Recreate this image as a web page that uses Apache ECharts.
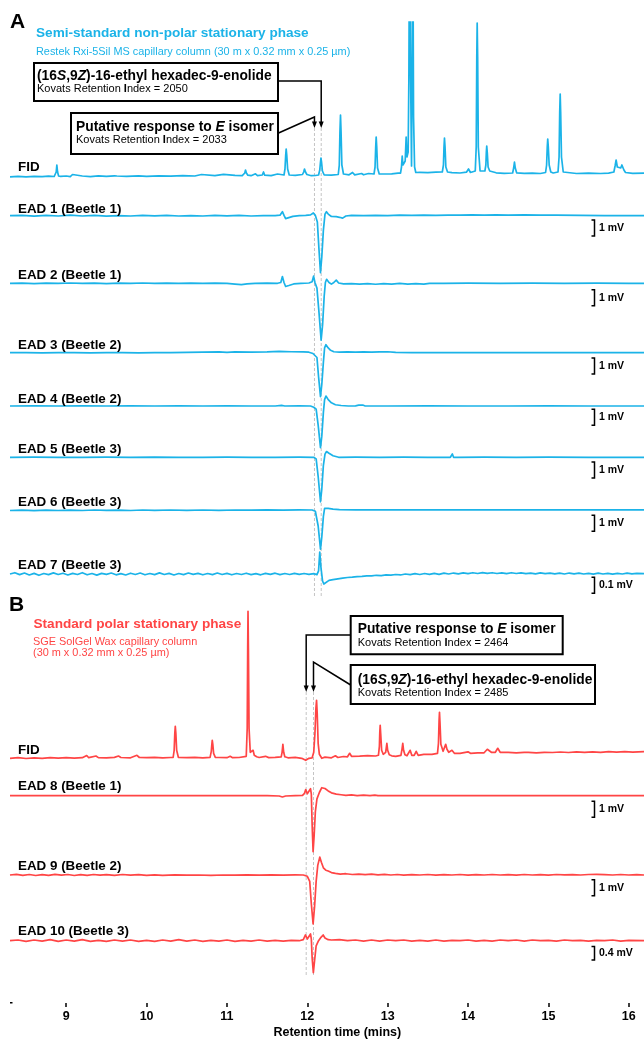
<!DOCTYPE html>
<html><head><meta charset="utf-8">
<script src="https://cdn.jsdelivr.net/npm/echarts@6/dist/echarts.min.js"></script>
<style>html,body{margin:0;padding:0;background:#fff}#c{width:644px;height:1041px}</style>
</head><body><div id="c"></div>
<script>
// ---------------- DATA (retention time in minutes, response) ----------------
const xTicks = [9, 10, 11, 12, 13, 14, 15, 16];
const responseTimesA = [12.089, 12.173];   // E isomer, Z compound (non-polar column)
const responseTimesB = [11.986, 12.077];   // E isomer, Z compound (polar column)
const scaleBars = [1, 1, 1, 1, 1, 1, 0.1, 1, 1, 0.4];          // mV
const scaleBarLabels = ['1 mV','1 mV','1 mV','1 mV','1 mV','1 mV','0.1 mV','1 mV','1 mV','0.4 mV'];

// FID, non-polar column (relative response)
const fidA = [[8.30,0.2],[8.40,0.6],[8.50,0.1],[8.60,0.7],[8.70,0.3],[8.78,0.8],[8.85,0.5],[8.865,0.8],[8.875,5],[8.883,12],[8.892,5],[8.905,1],[8.93,0.6],[9.00,1],[9.05,0.4],[9.078,2.5],[9.10,0.5],[9.20,1],[9.30,0.4],[9.40,1.1],[9.50,0.6],[9.60,1.2],[9.613,3],[9.63,1],[9.75,0.7],[9.90,1.1],[10.00,0.6],[10.15,1.1],[10.30,0.8],[10.45,1.3],[10.60,1],[10.683,2.5],[10.70,1.1],[10.85,1.4],[10.957,2.6],[10.98,1.2],[11.10,1.6],[11.19,1.4],[11.21,1.6],[11.222,4],[11.231,7],[11.242,4],[11.26,1.8],[11.30,1.3],[11.355,3.2],[11.38,1.4],[11.44,2],[11.455,5],[11.47,1.8],[11.55,1.4],[11.629,3],[11.65,1.5],[11.71,2],[11.722,8],[11.731,22],[11.737,28],[11.744,22],[11.755,8],[11.775,2],[11.85,1.6],[11.94,2.5],[11.955,5],[11.965,8],[11.977,5],[11.995,2.5],[12.05,1.3],[12.10,1.5],[12.14,2],[12.155,7],[12.164,15],[12.170,19],[12.177,15],[12.188,6],[12.21,2],[12.30,1.8],[12.385,2.5],[12.398,12],[12.406,45],[12.413,62],[12.420,45],[12.430,12],[12.45,3],[12.52,2.2],[12.563,4.5],[12.59,2.2],[12.675,3.5],[12.70,2.2],[12.762,3.5],[12.78,2.3],[12.83,3],[12.843,10],[12.851,30],[12.857,40],[12.864,30],[12.874,9],[12.895,3],[13.05,3.2],[13.13,3.8],[13.16,3.8],[13.172,10],[13.181,21],[13.19,12],[13.205,10],[13.218,16],[13.230,40],[13.240,20],[13.255,25],[13.264,100],[13.272,260],[13.283,120],[13.297,11],[13.303,100],[13.313,260],[13.322,60],[13.335,10],[13.35,4.5],[13.40,4.6],[13.50,4.3],[13.60,4.8],[13.68,5],[13.694,12],[13.701,30],[13.707,39],[13.714,30],[13.724,10],[13.745,5],[13.80,4.4],[13.90,4],[13.98,4.8],[14.006,8],[14.03,4.5],[14.09,6],[14.102,30],[14.109,120],[14.114,154],[14.120,120],[14.128,30],[14.15,6],[14.21,6],[14.222,12],[14.228,25],[14.233,31],[14.240,24],[14.25,10],[14.27,6],[14.35,4.2],[14.45,3.6],[14.555,4],[14.568,9],[14.578,15],[14.588,9],[14.605,4.2],[14.70,3.6],[14.80,3.9],[14.90,3.5],[14.965,4.5],[14.978,12],[14.986,30],[14.992,38],[14.999,30],[15.01,12],[15.03,5],[15.06,4],[15.12,5],[15.133,20],[15.141,65],[15.147,83],[15.153,65],[15.163,20],[15.185,5],[15.20,4],[15.35,3.5],[15.50,3.9],[15.65,3.5],[15.75,3.8],[15.815,5],[15.83,11],[15.843,17],[15.858,10],[15.875,8],[15.90,9],[15.915,12],[15.925,13],[15.94,7],[15.96,4.5],[16.05,3.6],[16.19,3.8]];

// EAD traces, non-polar column (mV)
const ead1 = [[8.30,0],[8.45,0.02],[8.60,-0.03],[8.75,0.02],[8.90,-0.02],[9.05,0.03],[9.20,-0.02],[9.35,0.02],[9.50,-0.03],[9.65,0.01],[9.80,-0.02],[9.95,0.02],[10.10,-0.01],[10.25,0.02],[10.40,-0.02],[10.55,0.01],[10.70,-0.02],[10.85,0.02],[11.00,-0.01],[11.15,0.02],[11.30,-0.02],[11.45,0.01],[11.60,0],[11.66,0.03],[11.69,0.25],[11.71,0.02],[11.73,-0.18],[11.77,-0.12],[11.82,-0.04],[11.90,0],[11.98,0.02],[12.04,0.05],[12.075,0.17],[12.10,0.02],[12.125,-0.4],[12.145,-2.1],[12.164,-3.56],[12.18,-2.6],[12.20,-0.9],[12.22,0.1],[12.238,0.25],[12.26,0.1],[12.30,-0.05],[12.36,-0.06],[12.40,-0.1],[12.44,-0.15],[12.48,-0.02],[12.55,0.02],[12.70,0],[12.85,0.02],[13.00,0.01],[13.15,0.03],[13.30,0.02],[13.45,0.04],[13.60,0.02],[13.75,0.04],[13.90,0.03],[14.05,0.05],[14.20,0.03],[14.35,0.05],[14.50,0.03],[14.70,0.05],[14.90,0.03],[15.10,0.04],[15.40,0.02],[15.70,0.01],[16.00,0],[16.19,0]];
const ead2 = [[8.30,0],[8.45,0.01],[8.60,-0.02],[8.75,0.01],[8.90,-0.01],[9.05,0.02],[9.20,-0.01],[9.35,0.01],[9.50,-0.02],[9.65,0.01],[9.80,-0.01],[9.95,0.02],[10.10,-0.01],[10.25,0.01],[10.40,-0.01],[10.55,0.01],[10.70,-0.01],[10.85,0.01],[11.00,-0.01],[11.10,-0.05],[11.18,-0.08],[11.25,-0.04],[11.35,0],[11.50,0.01],[11.63,0],[11.67,0.05],[11.69,0.42],[11.71,0.05],[11.73,-0.2],[11.77,-0.14],[11.83,-0.04],[11.92,0],[12.02,0.02],[12.06,0.1],[12.078,0.45],[12.095,0.05],[12.12,-0.3],[12.145,-1.8],[12.172,-3.56],[12.19,-2.6],[12.21,-0.8],[12.225,0.05],[12.24,0.25],[12.27,0.05],[12.30,-0.05],[12.33,0.05],[12.36,0.2],[12.39,0.02],[12.45,-0.04],[12.55,-0.02],[12.65,-0.05],[12.75,-0.02],[12.85,-0.06],[12.95,-0.02],[13.05,-0.05],[13.15,-0.01],[13.25,-0.05],[13.35,-0.02],[13.45,-0.05],[13.52,0],[13.70,0],[14.00,0.01],[14.40,0],[14.80,0.01],[15.20,0],[15.60,0.01],[16.00,0],[16.19,0]];
const ead3 = [[8.30,0],[8.50,0.01],[8.70,-0.01],[8.90,0],[9.10,0.01],[9.30,-0.01],[9.50,0],[9.70,0.01],[9.90,-0.01],[10.10,0.01],[10.30,0],[10.50,0.02],[10.70,0.03],[10.90,0.05],[11.00,0.02],[11.10,0.05],[11.30,0.04],[11.50,0.05],[11.65,0.08],[11.80,0.06],[11.95,0.05],[12.02,0.03],[12.07,-0.05],[12.09,-0.12],[12.12,-0.3],[12.14,-1.5],[12.164,-2.75],[12.18,-2.0],[12.20,-0.6],[12.215,0.3],[12.232,0.5],[12.26,0.3],[12.29,0.15],[12.33,0.06],[12.40,0.03],[12.50,0.05],[12.60,0.03],[12.70,0.05],[12.80,0.03],[12.90,0.05],[13.00,0.06],[13.10,0.02],[13.30,0],[13.60,0.01],[14.00,0],[14.50,0.01],[15.00,0],[15.50,0.01],[16.00,0],[16.19,0]];
const ead4 = [[8.30,0],[8.60,0.01],[8.90,0],[9.20,0.01],[9.50,0],[9.80,0.01],[10.10,0],[10.40,0.01],[10.70,0],[11.00,0.01],[11.30,0],[11.60,0],[11.68,0.04],[11.72,0],[11.90,0.01],[12.04,0],[12.08,-0.08],[12.11,-0.2],[12.135,-1.2],[12.164,-2.6],[12.18,-1.9],[12.20,-0.4],[12.215,0.4],[12.232,0.62],[12.26,0.4],[12.30,0.2],[12.35,0.08],[12.42,0.03],[12.51,0],[12.60,0.01],[12.64,0.05],[12.66,0.01],[12.69,0.06],[12.72,0],[13.00,0],[13.50,0.01],[14.00,0],[14.50,0],[15.00,0.01],[15.50,0],[16.19,0]];
const ead5 = [[8.30,0],[8.60,0.01],[8.90,-0.01],[9.20,0],[9.50,0.01],[9.80,-0.01],[10.10,0.01],[10.40,-0.01],[10.70,0],[11.00,0.01],[11.30,-0.01],[11.60,0],[11.90,0.01],[12.08,0],[12.11,-0.1],[12.135,-1.2],[12.164,-2.78],[12.18,-2.0],[12.20,-0.5],[12.22,0.2],[12.239,0.36],[12.27,0.25],[12.32,0.1],[12.39,0],[12.60,0.01],[12.90,0],[13.20,0.01],[13.50,0],[13.78,0],[13.805,0.21],[13.82,0],[13.84,-0.09],[13.87,0],[14.20,0.01],[14.60,0],[15.00,0.01],[15.50,0],[16.19,0]];
const ead6 = [[8.30,-0.03],[8.45,-0.01],[8.60,-0.04],[8.75,-0.01],[8.90,-0.03],[9.05,-0.01],[9.20,-0.03],[9.35,0],[9.50,-0.02],[9.65,-0.01],[9.80,-0.03],[9.95,0],[10.10,-0.02],[10.30,0],[10.50,-0.02],[10.70,0],[10.90,-0.02],[11.10,0],[11.30,-0.01],[11.50,0.01],[11.70,-0.01],[11.90,0.01],[12.06,0],[12.10,-0.08],[12.135,-1.0],[12.164,-2.44],[12.18,-1.7],[12.20,-0.4],[12.215,0.1],[12.232,0.21],[12.26,0.1],[12.32,0.05],[12.40,0.02],[12.60,0.01],[13.00,0.01],[13.50,0.01],[14.00,0.01],[14.50,0.01],[15.00,0.01],[15.50,0.01],[16.19,0.01]];
const ead7 = [[8.30,0],[8.36,0.008],[8.42,-0.004],[8.48,0.006],[8.54,-0.006],[8.60,0.004],[8.66,-0.008],[8.72,0.003],[8.78,-0.004],[8.84,0.007],[8.90,-0.003],[8.96,0.005],[9.02,-0.006],[9.08,0.004],[9.14,-0.003],[9.20,0.008],[9.26,-0.005],[9.32,0.003],[9.38,-0.007],[9.44,0.004],[9.50,-0.002],[9.56,0.006],[9.62,-0.005],[9.68,0.002],[9.74,-0.006],[9.80,0.005],[9.86,-0.003],[9.92,0.006],[9.98,-0.005],[10.04,0.003],[10.10,-0.004],[10.16,0.007],[10.22,-0.003],[10.28,0.004],[10.34,-0.006],[10.40,0.003],[10.46,-0.004],[10.52,0.006],[10.58,-0.002],[10.64,0.004],[10.70,-0.005],[10.76,0.003],[10.82,-0.004],[10.88,0.006],[10.94,-0.003],[11.00,0.004],[11.06,-0.005],[11.12,0.003],[11.18,-0.003],[11.24,0.005],[11.30,-0.004],[11.36,0.002],[11.42,-0.005],[11.48,0.004],[11.54,-0.002],[11.60,0.005],[11.66,-0.004],[11.72,0.003],[11.78,-0.003],[11.84,0.004],[11.90,-0.002],[11.96,0.003],[12.02,-0.002],[12.08,0.002],[12.12,-0.004],[12.14,0.02],[12.155,0.1375],[12.17,0.04],[12.19,-0.045],[12.206,-0.0625],[12.23,-0.05],[12.27,-0.04],[12.32,-0.035],[12.38,-0.03],[12.44,-0.026],[12.50,-0.022],[12.56,-0.02],[12.62,-0.016],[12.68,-0.015],[12.74,-0.012],[12.80,-0.012],[12.86,-0.008],[12.92,-0.01],[12.98,-0.006],[13.04,-0.007],[13.10,-0.003],[13.16,-0.006],[13.22,0],[13.28,-0.004],[13.34,0.002],[13.40,-0.003],[13.46,0.003],[13.52,-0.002],[13.58,0.004],[13.64,-0.002],[13.70,0.005],[13.76,0],[13.82,0.006],[13.88,0.001],[13.94,0.007],[14.00,0.002],[14.06,0.008],[14.12,0.003],[14.18,0.009],[14.24,0.004],[14.30,0.008],[14.36,0.003],[14.42,0.007],[14.48,0.002],[14.54,0.008],[14.60,0.003],[14.66,0.007],[14.72,0.002],[14.78,0.006],[14.84,0.001],[14.90,0.007],[14.96,0.002],[15.02,0.006],[15.08,0.001],[15.14,0.005],[15.20,0],[15.26,0.006],[15.32,0.001],[15.38,0.005],[15.44,0],[15.50,0.004],[15.56,-0.001],[15.62,0.005],[15.68,0],[15.74,0.004],[15.80,-0.001],[15.86,0.004],[15.92,0],[15.98,0.005],[16.04,0.001],[16.10,0.004],[16.19,0.002]];

// FID, polar column (relative response)
const fidB = [[8.30,0],[8.40,0.6],[8.50,-0.2],[8.60,0.5],[8.70,0],[8.80,0.6],[8.90,0.1],[9.00,0.7],[9.10,0.2],[9.20,0.6],[9.255,2.8],[9.28,0.6],[9.37,2.3],[9.40,0.7],[9.50,0.4],[9.60,0.9],[9.65,2.3],[9.68,0.8],[9.80,0.5],[9.88,3],[9.91,0.8],[10.00,0.6],[10.10,0.9],[10.20,0.5],[10.30,0.8],[10.33,0.8],[10.343,8],[10.351,25],[10.357,32],[10.364,25],[10.374,8],[10.395,1],[10.50,0.6],[10.60,0.9],[10.70,0.5],[10.79,1],[10.805,7],[10.812,14],[10.817,18],[10.824,14],[10.834,5],[10.855,1],[10.90,0.8],[11.00,0.6],[11.04,2],[11.07,0.6],[11.15,0.8],[11.24,2],[11.252,30],[11.258,110],[11.262,147],[11.267,110],[11.275,30],[11.29,6],[11.31,4],[11.325,8],[11.34,3],[11.37,1.5],[11.40,0.8],[11.48,2],[11.52,0.7],[11.60,0.9],[11.675,1.5],[11.686,6],[11.696,14],[11.706,6],[11.72,1.5],[11.76,0.5],[11.85,1],[11.93,0],[11.98,-2],[12.02,0],[12.06,0.5],[12.08,6],[12.095,25],[12.107,50],[12.115,58],[12.123,45],[12.135,15],[12.15,4],[12.18,0],[12.22,1.2],[12.30,0.5],[12.35,2.5],[12.38,0.8],[12.45,1.8],[12.50,1.5],[12.527,5],[12.55,2],[12.65,2.2],[12.75,2.6],[12.85,2.3],[12.885,3],[12.897,12],[12.902,26],[12.907,33],[12.913,25],[12.925,8],[12.945,4],[12.975,6],[12.99,15],[13.00,8],[13.02,3.5],[13.05,2.5],[13.10,2],[13.165,3],[13.178,9],[13.188,15],[13.198,8],[13.215,3.5],[13.24,2.5],[13.28,8],[13.30,3],[13.33,3],[13.355,7],[13.38,3],[13.45,4],[13.55,4],[13.62,5],[13.632,15],[13.640,38],[13.645,46],[13.651,36],[13.662,14],[13.69,7],[13.712,8],[13.722,14],[13.728,15],[13.738,9],[13.76,6],[13.80,8],[13.83,5],[13.90,5],[14.00,6.5],[14.03,5],[14.12,5.5],[14.20,5.5],[14.24,9],[14.258,11],[14.29,6],[14.34,6],[14.37,10],[14.40,6],[14.50,6],[14.60,5.5],[14.70,6],[14.72,8],[14.75,6],[14.85,5.5],[14.95,6],[15.05,5.8],[15.15,6.3],[15.25,5.8],[15.35,6.4],[15.45,6],[15.55,6.5],[15.65,6],[15.75,6.6],[15.85,6.1],[15.95,6.6],[16.05,6.2],[16.19,6.6]];

// EAD traces, polar column (mV)
const ead8 = [[8.30,0],[8.70,0.01],[9.10,0],[9.50,0.01],[9.90,0],[10.30,0.01],[10.70,0],[11.10,0.01],[11.50,0],[11.65,-0.02],[11.69,-0.08],[11.73,-0.02],[11.85,0],[11.94,0.02],[11.965,0.15],[11.98,0.38],[12.00,0.12],[12.02,0.2],[12.04,0.44],[12.05,0.1],[12.06,-1.8],[12.072,-3.5],[12.085,-2.5],[12.10,-1.0],[12.12,-0.2],[12.15,0.2],[12.18,0.5],[12.195,0.62],[12.22,0.45],[12.26,0.3],[12.30,0.18],[12.36,0.1],[12.42,0.06],[12.48,0.02],[12.55,0.05],[12.62,0.01],[12.70,0.04],[12.78,0.0],[12.84,0.04],[12.88,0],[13.20,0],[13.60,0.01],[14.00,0],[14.40,0],[14.80,0.01],[15.20,0],[15.60,0],[16.19,0]];
const ead9 = [[8.30,0],[8.38,0.04],[8.46,-0.02],[8.54,0.03],[8.62,-0.03],[8.70,0.02],[8.78,-0.02],[8.86,0.04],[8.94,-0.01],[9.02,0.03],[9.10,-0.03],[9.18,0.02],[9.26,-0.02],[9.34,0.03],[9.42,-0.01],[9.50,0.02],[9.60,-0.02],[9.70,0.03],[9.80,-0.01],[9.90,0.02],[10.00,-0.02],[10.10,0.01],[10.20,-0.02],[10.35,0.01],[10.50,-0.01],[10.65,0],[10.80,-0.02],[10.95,0],[11.10,-0.01],[11.25,0.01],[11.40,-0.01],[11.55,0.01],[11.70,-0.01],[11.85,0.01],[11.95,0],[12.00,-0.08],[12.03,-0.4],[12.05,-1.8],[12.072,-3.06],[12.09,-2.0],[12.11,-0.4],[12.13,0.6],[12.155,1.12],[12.175,0.8],[12.20,0.45],[12.23,0.3],[12.26,0.25],[12.30,0.15],[12.35,0.1],[12.41,0.06],[12.48,0.08],[12.56,0.03],[12.64,0.06],[12.72,0.02],[12.80,0.05],[12.88,0.01],[12.96,0.04],[13.04,0],[13.12,0.03],[13.20,-0.01],[13.30,0.02],[13.40,0],[13.50,0.03],[13.60,-0.01],[13.70,0.02],[13.80,0],[13.90,0.03],[14.00,-0.01],[14.10,0.02],[14.20,0],[14.30,0.03],[14.40,0],[14.50,0.02],[14.60,-0.01],[14.70,0.03],[14.80,0],[14.90,0.02],[15.00,-0.01],[15.10,0.03],[15.20,0.01],[15.30,0.02],[15.40,0],[15.50,0.03],[15.60,0.04],[15.70,0.02],[15.80,0],[15.90,0.03],[16.00,0],[16.10,0.02],[16.19,0]];
const ead10 = [[8.30,0],[8.40,0.02],[8.50,-0.02],[8.60,0.02],[8.70,-0.01],[8.80,0.03],[8.90,-0.02],[9.00,0.02],[9.10,-0.01],[9.20,0.03],[9.30,-0.02],[9.40,0.01],[9.50,-0.02],[9.60,0.02],[9.70,-0.01],[9.80,0.02],[9.90,-0.02],[10.00,0.01],[10.10,-0.02],[10.20,0.02],[10.30,-0.01],[10.40,0.03],[10.50,-0.01],[10.60,0.02],[10.70,-0.02],[10.80,0.01],[10.90,-0.01],[11.00,0.02],[11.10,-0.02],[11.20,0.01],[11.30,-0.01],[11.40,0.02],[11.50,-0.01],[11.60,0.01],[11.70,-0.01],[11.80,0.01],[11.90,0],[11.95,0.03],[11.977,0.17],[12.00,0.05],[12.02,0.1],[12.04,0.2],[12.05,0.05],[12.06,-0.5],[12.075,-0.95],[12.09,-0.6],[12.11,-0.15],[12.14,0],[12.17,0.1],[12.197,0.17],[12.22,0.08],[12.26,0.03],[12.30,0.02],[12.40,0.03],[12.50,0],[12.60,0.02],[12.70,-0.01],[12.80,0.02],[12.90,-0.01],[13.00,0.02],[13.10,0],[13.20,0.02],[13.30,-0.01],[13.40,0.01],[13.50,-0.01],[13.60,0.02],[13.70,-0.01],[13.80,0.01],[13.90,0],[14.00,0.02],[14.10,-0.01],[14.20,0.01],[14.30,-0.01],[14.40,0.02],[14.50,0],[14.60,0.02],[14.70,-0.01],[14.80,0.02],[14.90,0],[15.00,0.01],[15.10,-0.01],[15.20,0.02],[15.30,0],[15.40,0.01],[15.50,-0.01],[15.60,0.01],[15.70,0],[15.80,0.02],[15.90,-0.01],[16.00,0.01],[16.19,0]];

// ---------------- LAYOUT / STYLE ----------------
const FONT = "'Liberation Sans', Arial, Helvetica, sans-serif";
const BLUE = '#1bb3e8', RED = '#ff4545';
const X_MIN = 8.3, X_MAX = 16.19, SCALE_T = 15.573;

const traces = [
  {data: fidA, color: BLUE, base: 177,   ppu: 1,   up: 155, down: 12, clip: true, label: 'FID', ly: 167},
  {data: ead1, color: BLUE, base: 215.7, ppu: 16,  up: 2, down: 5, label: 'EAD 1 (Beetle 1)', ly: 209.5, bar: 0, barTop: -0.27},
  {data: ead2, color: BLUE, base: 283.3, ppu: 16,  up: 2, down: 5, label: 'EAD 2 (Beetle 1)', ly: 275,   bar: 1, barTop: -0.40},
  {data: ead3, color: BLUE, base: 352.7, ppu: 16,  up: 2, down: 5, label: 'EAD 3 (Beetle 2)', ly: 345.7, bar: 2, barTop: -0.33},
  {data: ead4, color: BLUE, base: 406,   ppu: 16,  up: 2, down: 5, label: 'EAD 4 (Beetle 2)', ly: 399,   bar: 3, barTop: -0.20},
  {data: ead5, color: BLUE, base: 457.3, ppu: 16,  up: 2, down: 5, label: 'EAD 5 (Beetle 3)', ly: 449.5, bar: 4, barTop: -0.29},
  {data: ead6, color: BLUE, base: 510,   ppu: 16,  up: 2, down: 5, label: 'EAD 6 (Beetle 3)', ly: 502,   bar: 5, barTop: -0.33},
  {data: ead7, color: BLUE, base: 574,   ppu: 160, up: 0.3, down: 0.3, label: 'EAD 7 (Beetle 3)', ly: 565, bar: 6, barTop: -0.02},
  {data: fidB, color: RED,  base: 758.3, ppu: 1,   up: 160, down: 12, label: 'FID', ly: 750},
  {data: ead8, color: RED,  base: 795.7, ppu: 16,  up: 2, down: 5, label: 'EAD 8 (Beetle 1)', ly: 786.7, bar: 7, barTop: -0.35},
  {data: ead9, color: RED,  base: 875,   ppu: 16,  up: 2, down: 5, label: 'EAD 9 (Beetle 2)', ly: 866,   bar: 8, barTop: -0.29},
  {data: ead10, color: RED, base: 940.7, ppu: 33.75, up: 1, down: 2, label: 'EAD 10 (Beetle 3)', ly: 931.7, bar: 9, barTop: -0.17}
];

const grids = [], xAxes = [], yAxes = [], series = [];
function addGrid(top, height, ymin, ymax, xExtra) {
  const i = grids.length;
  grids.push({left: 10, right: 0, top: top, height: height, containLabel: false});
  xAxes.push(Object.assign({gridIndex: i, type: 'value', min: X_MIN, max: X_MAX, show: false}, xExtra || {}));
  yAxes.push({gridIndex: i, type: 'value', min: ymin, max: ymax, show: false});
  return i;
}

function barRenderer(label) {
  return function (params, api) {
    const t = api.value(0), top = api.value(1), size = api.value(2);
    const p1 = api.coord([t, top]), p2 = api.coord([t, top - size]);
    const x = Math.round(p1[0]) + 0.5;
    return {type: 'group', children: [
      {type: 'polyline', shape: {points: [[x - 3, p1[1]], [x, p1[1]], [x, p2[1]], [x - 3, p2[1]]]},
       style: {stroke: '#000', lineWidth: 1.5, fill: null}},
      {type: 'text', x: x + 4.5, y: (p1[1] + p2[1]) / 2,
       style: {text: label, fill: '#000', fontSize: 10.5, fontWeight: 'bold', fontFamily: FONT, align: 'left', verticalAlign: 'middle'}}
    ]};
  };
}
function dashRenderer(params, api) {
  const x = api.coord([api.value(0), 0.5])[0];
  const cs = params.coordSys;
  return {type: 'line', shape: {x1: x, y1: cs.y, x2: x, y2: cs.y + cs.height},
          style: {stroke: '#c4c4c4', lineWidth: 1, lineDash: [3, 2]}};
}

// overlay grids for the dashed guide lines (drawn first, beneath traces)
const ovA = addGrid(128, 470, 0, 1);
const ovB = addGrid(692, 285, 0, 1);
series.push({type: 'custom', xAxisIndex: ovA, yAxisIndex: ovA, z: 1, silent: true, renderItem: dashRenderer,
             data: responseTimesA.map(t => [t, 0.5])});
series.push({type: 'custom', xAxisIndex: ovB, yAxisIndex: ovB, z: 1, silent: true, renderItem: dashRenderer,
             data: responseTimesB.map(t => [t, 0.5])});

traces.forEach(tr => {
  const gi = addGrid(tr.base - tr.up * tr.ppu, (tr.up + tr.down) * tr.ppu, -tr.down, tr.up);
  series.push({type: 'line', xAxisIndex: gi, yAxisIndex: gi, data: tr.data, showSymbol: false, symbol: 'none',
               clip: !!tr.clip, z: 3, silent: true,
               lineStyle: {color: tr.color, width: 1.7, join: 'round'}});
  if (tr.bar !== undefined) {
    series.push({type: 'custom', xAxisIndex: gi, yAxisIndex: gi, z: 4, silent: true, clip: false,
                 renderItem: barRenderer(scaleBarLabels[tr.bar]),
                 data: [[SCALE_T, tr.barTop, scaleBars[tr.bar]]]});
  }
});

// bottom axis grid
addGrid(990, 13, 0, 1, {
  show: true,
  axisLine: {show: false},
  splitLine: {show: false},
  axisTick: {show: true, length: 4, inside: false, customValues: xTicks, lineStyle: {color: '#000', width: 1.5}},
  axisLabel: {show: true, customValues: xTicks, margin: 7, color: '#000', fontSize: 12.5, fontWeight: 'bold', fontFamily: FONT}
});

const chart = echarts.init(document.getElementById('c'), null, {renderer: 'canvas'});
chart.setOption({animation: false, backgroundColor: '#fff', grid: grids, xAxis: xAxes, yAxis: yAxes, series: series});

// ---------------- ANNOTATIONS ----------------
const g = [];
function txt(x, y, text, size, weight, color, extra) {
  g.push({type: 'text', x: x, y: y, z: 50, silent: true,
          style: Object.assign({text: text, fontSize: size, fontWeight: weight, fontFamily: FONT, fill: color,
                                align: 'left', verticalAlign: 'middle'}, extra || {})});
}
function richTxt(x, y, text, size, weight, extraRich) {
  const base = {fontSize: size, fontWeight: weight, fontFamily: FONT, fill: '#000'};
  const rich = {};
  Object.keys(extraRich).forEach(k => { rich[k] = Object.assign({}, base, extraRich[k]); });
  g.push({type: 'text', x: x, y: y, z: 60, silent: true,
          style: Object.assign({text: text, rich: rich, align: 'left', verticalAlign: 'middle'}, base)});
}
function box(x, y, w, h) {
  g.push({type: 'rect', z: 55, silent: true, shape: {x: x, y: y, width: w, height: h},
          style: {fill: '#fff', stroke: '#000', lineWidth: 2}});
}
function arrow(points, tipY) {
  const last = points[points.length - 1];
  g.push({type: 'polyline', z: 55, silent: true, shape: {points: points}, style: {stroke: '#000', lineWidth: 1.5, fill: null}});
  g.push({type: 'polygon', z: 55, silent: true, shape: {points: [[last[0] - 2.5, tipY - 6.5], [last[0] + 2.5, tipY - 6.5], [last[0], tipY]]},
          style: {fill: '#000'}});
}
const px = t => chart.convertToPixel({xAxisIndex: ovA}, t);

// panel headers
txt(10, 22.5, 'A', 21, 'bold', '#000');
txt(36, 33, 'Semi-standard non-polar stationary phase', 13.6, 'bold', BLUE);
txt(36, 52, 'Restek Rxi-5Sil MS capillary column (30 m x 0.32 mm x 0.25 µm)', 10.9, 'normal', BLUE);
txt(9, 605, 'B', 21, 'bold', '#000');
txt(33.5, 624, 'Standard polar stationary phase', 13.6, 'bold', RED);
txt(33, 641.5, 'SGE SolGel Wax capillary column', 10.9, 'normal', RED);
txt(33, 653.3, '(30 m x 0.32 mm x 0.25 µm)', 10.9, 'normal', RED);

// trace labels
traces.forEach(tr => txt(18, tr.ly, tr.label, 13.4, 'bold', '#000'));

// callouts, panel A
const xEA = px(responseTimesA[0]), xZA = px(responseTimesA[1]);
arrow([[278, 81], [xZA, 81], [xZA, 122]], 128);
arrow([[278, 133.3], [xEA, 117], [xEA, 122]], 128);
box(34, 63, 244, 38);
richTxt(37, 76, '(16{i|S},9{i|Z})-16-ethyl hexadec-9-enolide', 13.8, 'bold', {i: {fontStyle: 'italic'}});
richTxt(37, 89.3, 'Kovats Retention {b|I}ndex = 2050', 11, 'normal', {b: {fontWeight: 'bold'}});
box(71, 113, 207, 41);
richTxt(76, 126.7, 'Putative response to {i|E} isomer', 13.8, 'bold', {i: {fontStyle: 'italic'}});
richTxt(76, 140, 'Kovats Retention {b|I}ndex = 2033', 11, 'normal', {b: {fontWeight: 'bold'}});

// callouts, panel B
const xEB = px(responseTimesB[0]), xZB = px(responseTimesB[1]);
arrow([[350.7, 635], [xEB, 635], [xEB, 686]], 692);
arrow([[350.7, 685], [xZB, 662], [xZB, 686]], 692);
box(350.7, 616, 212, 38.3);
richTxt(357.7, 629.3, 'Putative response to {i|E} isomer', 13.8, 'bold', {i: {fontStyle: 'italic'}});
richTxt(357.7, 643.3, 'Kovats Retention {b|I}ndex = 2464', 11, 'normal', {b: {fontWeight: 'bold'}});
box(350.7, 665, 244.3, 39);
richTxt(357.7, 680, '(16{i|S},9{i|Z})-16-ethyl hexadec-9-enolide', 13.8, 'bold', {i: {fontStyle: 'italic'}});
richTxt(357.7, 692.7, 'Kovats Retention {b|I}ndex = 2485', 11, 'normal', {b: {fontWeight: 'bold'}});

// axis title and start mark
txt(337.3, 1033, 'Retention time (mins)', 12.5, 'bold', '#000', {align: 'center'});
g.push({type: 'rect', z: 50, silent: true, shape: {x: 10, y: 1002, width: 2.5, height: 1.5}, style: {fill: '#000'}});

chart.setOption({graphic: g});
</script>
</body></html>
